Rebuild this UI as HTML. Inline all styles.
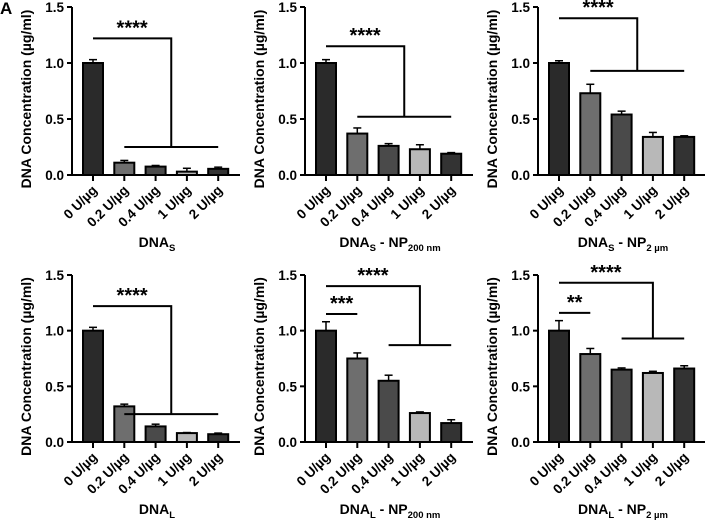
<!DOCTYPE html>
<html><head><meta charset="utf-8"><style>
body{margin:0;background:#fff}
svg{display:block;font-family:"Liberation Sans",Arial,sans-serif;font-weight:bold}
</style></head><body>
<svg id="c" width="705" height="521" viewBox="0 0 705 521">
<text x="0" y="14" font-size="17" fill="#000">A</text>
</svg>
<script>
const categories=["0 U/µg","0.2 U/µg","0.4 U/µg","1 U/µg","2 U/µg"];
const yTicks=[0,0.5,1.0,1.5];
const yTickLabels=["0.0","0.5","1.0","1.5"];
const means1=[1.0,0.11,0.075,0.03,0.055], err1=[0.03,0.02,0.01,0.03,0.015];
const means2=[1.0,0.37,0.26,0.23,0.19], err2=[0.03,0.05,0.02,0.04,0.01];
const means3=[1.0,0.73,0.54,0.34,0.34], err3=[0.02,0.08,0.03,0.04,0.01];
const means4=[1.0,0.32,0.14,0.08,0.07], err4=[0.03,0.02,0.02,0.005,0.01];
const means5=[1.0,0.75,0.55,0.26,0.17], err5=[0.08,0.05,0.05,0.01,0.03];
const means6=[1.0,0.79,0.65,0.62,0.66], err6=[0.09,0.05,0.015,0.015,0.025];
const barColors=["#2a2a2a","#6e6e6e","#4a4a4a","#b8b8b8","#333333"];
const NS="http://www.w3.org/2000/svg", svg=document.getElementById('c');
function mk(t,a,p){const e=document.createElementNS(NS,t);for(const k in a)e.setAttribute(k,a[k]);(p||svg).appendChild(e);return e;}
const panels=[
 {ax:72,y0:175,y15:7,m:means1,e:err1,title:["DNA","S","",""],big:{top:1.22,low:0.25,from:1},small:null},
 {ax:305,y0:175,y15:7,m:means2,e:err2,title:["DNA","S"," - NP","200 nm"],big:{top:1.15,low:0.52,from:1},small:null},
 {ax:538,y0:175,y15:7,m:means3,e:err3,title:["DNA","S"," - NP","2 µm"],big:{top:1.4,low:0.93,from:1},small:null},
 {ax:72,y0:442,y15:275,m:means4,e:err4,title:["DNA","L","",""],big:{top:1.22,low:0.25,from:1},small:null},
 {ax:305,y0:442,y15:275,m:means5,e:err5,title:["DNA","L"," - NP","200 nm"],big:{top:1.4,low:0.87,from:2},small:{y:1.15,s:"***"}},
 {ax:538,y0:442,y15:275,m:means6,e:err6,title:["DNA","L"," - NP","2 µm"],big:{top:1.43,low:0.93,from:2},small:{y:1.16,s:"**"}}
];
panels.forEach((P,pi)=>{
 const g=mk('g',{});
 
 
 const Y=v=>P.y0-(P.y0-P.y15)*v/1.5;
 const X=i=>P.ax+21+i*31.3;
 mk('line',{x1:P.ax,y1:P.y15,x2:P.ax,y2:P.y0+1,stroke:'#000','stroke-width':2},g);
 mk('line',{x1:P.ax-1,y1:P.y0,x2:P.ax+168,y2:P.y0,stroke:'#000','stroke-width':2},g);
 yTicks.forEach((t,i)=>{
  mk('line',{x1:P.ax-5,y1:Y(t),x2:P.ax,y2:Y(t),stroke:'#000','stroke-width':2},g);
  const tx=mk('text',{x:P.ax-8,y:Y(t)+5,'font-size':13.5,'text-anchor':'end'},g);tx.textContent=yTickLabels[i];
 });
 const yt=mk('text',{transform:`translate(${P.ax-41},${(P.y0+P.y15)/2+8}) rotate(-90)`,'font-size':14,'text-anchor':'middle'},g);
 yt.textContent="DNA Concentration (µg/ml)";
 
 
 P.m.forEach((v,i)=>{
  const x=X(i);
  const ey=Y(v+P.e[i]);
  mk('line',{x1:x,y1:Y(v),x2:x,y2:ey,stroke:'#000','stroke-width':1.5},g);
  mk('line',{x1:x-4,y1:ey,x2:x+4,y2:ey,stroke:'#000','stroke-width':1.5},g);
  const r=mk('rect',{x:x-10,y:Y(v),width:20,height:P.y0-Y(v),fill:barColors[i],stroke:'#000','stroke-width':2},g);
  
  
  mk('line',{x1:x,y1:P.y0,x2:x,y2:P.y0+6,stroke:'#000','stroke-width':2},g);
  const lt=mk('text',{transform:`translate(${x+5},${P.y0+16}) rotate(-45)`,'font-size':13.5,'text-anchor':'end'},g);
  lt.textContent=categories[i];
 });
 const B=P.big, xa=X(0), xl1=X(B.from), xl2=X(4), xm=(xl1+xl2)/2;
 mk('polyline',{points:`${xa},${Y(B.top)} ${xm},${Y(B.top)} ${xm},${Y(B.low)}`,fill:'none',stroke:'#000','stroke-width':2},g);
 mk('line',{x1:xl1,y1:Y(B.low),x2:xl2,y2:Y(B.low),stroke:'#000','stroke-width':2},g);
 const st=mk('text',{x:(xa+xm)/2,y:Y(B.top)-4,'font-size':20,'text-anchor':'middle'},g);st.textContent="****";
 if(P.small){
  mk('line',{x1:X(0),y1:Y(P.small.y),x2:X(1),y2:Y(P.small.y),stroke:'#000','stroke-width':2},g);
  const s2=mk('text',{x:(X(0)+X(1))/2,y:Y(P.small.y)-4,'font-size':20,'text-anchor':'middle'},g);s2.textContent=P.small.s;
 }
 const t=P.title;
 const tt=mk('text',{x:P.ax+85,y:P.y0+72,'font-size':14,'text-anchor':'middle'},g);
 
 
 let a=mk('tspan',{},tt);a.textContent=t[0];
 a=mk('tspan',{dy:4,'font-size':9.5},tt);a.textContent=t[1];
 if(t[2]){a=mk('tspan',{dy:-4},tt);a.textContent=t[2];a=mk('tspan',{dy:4,'font-size':9.5},tt);a.textContent=t[3];}
});
</script>
</body></html>
